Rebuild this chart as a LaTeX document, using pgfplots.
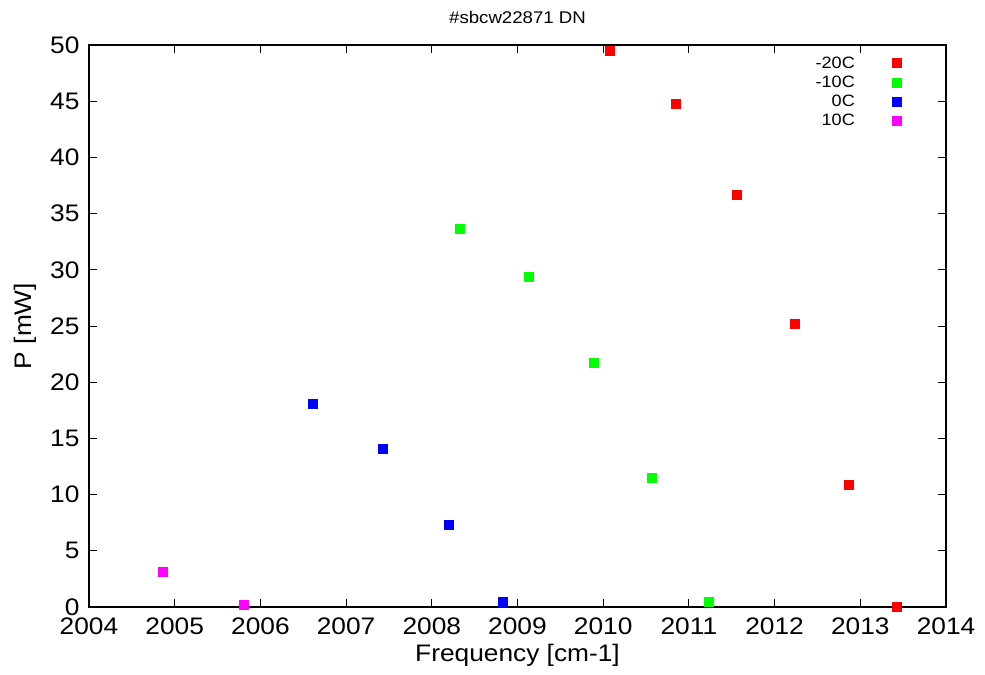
\documentclass[border=0pt]{standalone}
\usepackage{fontspec}
\setmainfont{Liberation Sans}[FakeStretch=1.1]
\usepackage{pgfplots}
\pgfplotsset{compat=1.18}
\definecolor{gred}{RGB}{255,0,0}
\definecolor{ggreen}{RGB}{0,255,0}
\definecolor{gblue}{RGB}{0,0,255}
\definecolor{gmag}{RGB}{255,0,255}
\begin{document}
\begin{tikzpicture}
\useasboundingbox (-89bp,-68bp) rectangle (896bp,607bp);
\begin{axis}[
  at={(0,0)}, anchor=south west,
  scale only axis, width=857bp, height=562bp,
  xmin=2004, xmax=2014, ymin=0, ymax=50,
  xtick={2004,2005,...,2014}, ytick={0,5,...,50},
  tick align=inside, major tick length=8bp,
  tick style={line width=0.8bp, black},
  axis line style={line width=1.6bp},
  tick label style={font=\fontsize{24}{28}\selectfont},
  /pgf/number format/assume math mode=true,
  x tick label style={/pgf/number format/1000 sep={}, yshift=-7bp},
  y tick label style={xshift=-6bp},
  xlabel={Frequency [cm-1]}, ylabel={P [mW]},
  label style={font=\fontsize{24}{28}\selectfont},
  xlabel style={at={(axis description cs:0.5,0)}, anchor=center, yshift=-48bp},
  ylabel style={at={(axis description cs:0,0.5)}, anchor=center, yshift=64bp},
  title={\#sbcw22871 DN},
  title style={font=\fontsize{17}{19}\selectfont, at={(axis description cs:0.5,1)}, anchor=center, yshift=22bp},
  legend style={draw=none, fill=none, font=\fontsize{16.5}{16.5}\selectfont,
    at={(axis description cs:1,1)}, anchor=north east, xshift=-41bp, yshift=-7.5bp,
    row sep=2.3bp, legend cell align=right},
  legend plot pos=right,
  legend image code/.code={\path[draw=none,fill=none] (0bp,-4.5bp) rectangle (45bp,4.5bp); \draw[#1] plot coordinates {(40bp,0bp)};},
  every axis plot/.append style={only marks, mark=square*, mark size=4.5bp},
]
\addplot[gred, mark options={draw=none, fill=gred}] coordinates {
(2010.07,49.47) (2010.85,44.8) (2011.56,36.7) (2012.24,25.2) (2012.86,10.9) (2013.42,0.05)};
\addlegendentry{-20C}
\addplot[ggreen, mark options={draw=none, fill=ggreen}] coordinates {
(2008.33,33.7) (2009.13,29.4) (2009.89,21.7) (2010.57,11.5) (2011.23,0.45)};
\addlegendentry{-10C}
\addplot[gblue, mark options={draw=none, fill=gblue}] coordinates {
(2006.61,18.06) (2007.43,14.06) (2008.20,7.3) (2008.83,0.5)};
\addlegendentry{0C}
\addplot[gmag, mark options={draw=none, fill=gmag}] coordinates {
(2004.86,3.1) (2005.80,0.18)};
\addlegendentry{10C}
\end{axis}
\end{tikzpicture}
\end{document}
